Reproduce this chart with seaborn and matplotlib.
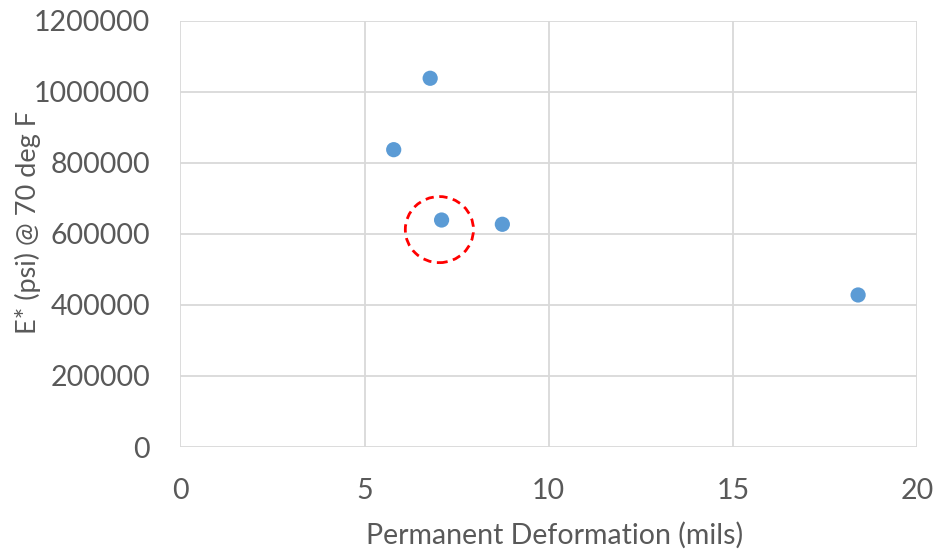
import matplotlib
matplotlib.use("Agg")
import matplotlib.pyplot as plt
import seaborn as sns
import pandas as pd
from matplotlib.patches import Ellipse

deformation = [5.79, 6.78, 7.09, 8.74, 18.40]
modulus = [837000, 1038000, 639000, 627000, 428000]
x_ticks = [0, 5, 10, 15, 20]
y_ticks = [0, 200000, 400000, 600000, 800000, 1000000, 1200000]
x_label = "Permanent Deformation (mils)"
y_label = "E* (psi) @ 70 deg F"

df = pd.DataFrame({"x": deformation, "y": modulus})

sns.set_theme(style="white")
plt.rcParams["font.family"] = ["Lato", "DejaVu Sans"]

W, H = 939, 551
fig = plt.figure(figsize=(W / 100, H / 100), dpi=100)
ax = fig.add_axes([0.1922, 0.1887, 0.7844, 0.7737])

sns.scatterplot(data=df, x="x", y="y", ax=ax, s=120, color="#5B9BD5",
                edgecolor="none", zorder=3)

ax.set_xlim(0, 20)
ax.set_ylim(0, 1200000)
ax.set_xticks(x_ticks)
ax.set_yticks(y_ticks)
ax.set_xticklabels([str(v) for v in x_ticks])
ax.set_yticklabels([str(v) for v in y_ticks])
ax.grid(True, color="#D9D9D9", linewidth=1.3)
ax.set_axisbelow(True)
for sp in ax.spines.values():
    sp.set_visible(False)
ax.tick_params(axis="both", length=0, labelsize=20.5, labelcolor="#595959")
ax.tick_params(axis="x", pad=22)
ax.tick_params(axis="y", pad=22)
ax.set_xlabel("")
ax.set_ylabel("")
fig.text(555 / W, 1 - 535 / H, x_label, fontsize=20.5, color="#595959",
         ha="center", va="center")
fig.text(28 / W, 1 - 222 / H, y_label, fontsize=19.5, color="#595959",
         ha="center", va="center", rotation=90)

circle = Ellipse((7.03, 612000), width=1.85, height=186000, fill=False,
                 edgecolor="#FF0000", linestyle=(0, (3, 2)), linewidth=2,
                 zorder=4)
ax.add_patch(circle)

fig.savefig("out.png", dpi=100, facecolor="white")
